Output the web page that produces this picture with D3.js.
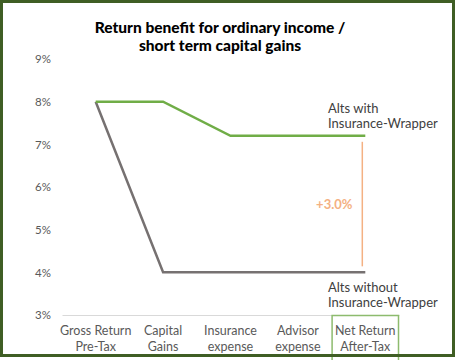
<!DOCTYPE html>
<html><head><meta charset="utf-8">
<script src="https://cdn.jsdelivr.net/npm/d3@7"></script>
<style>
html,body{margin:0;padding:0;background:#fff;}
svg{display:block;font-family:Lato,"Open Sans",sans-serif;}
</style></head>
<body><svg id="c" width="458" height="360"></svg>
<script>
const categories = [["Gross Return","Pre-Tax"],["Capital","Gains"],["Insurance","expense"],["Advisor","expense"],["Net Return","After-Tax"]];
const withWrapper = [8, 8, 7.2, 7.2, 7.2];
const withoutWrapper = [8, 4, 4, 4, 4];
const yTicks = [3,4,5,6,7,8,9];
const titleLines = ["Return benefit for ordinary income /","short term capital gains"];
const benefitLabel = "+3.0%";
const withLabel = ["Alts with","Insurance-Wrapper"];
const withoutLabel = ["Alts without","Insurance-Wrapper"];

const svg = d3.select("#c");
const x = d3.scaleBand().domain(d3.range(categories.length)).range([62, 399]);
const y = d3.scaleLinear().domain([3, 9]).range([315, 59]);
const cx = i => x(i) + x.bandwidth()/2;

// title
svg.append("text").attr("x", 220).attr("text-anchor","middle")
  .attr("font-weight","900").attr("font-size",15.5).attr("fill","#000")
  .selectAll("tspan").data(titleLines).join("tspan")
  .attr("x",220).attr("y",(d,i)=>33+i*18).text(d=>d);

// y axis
const yAxis = d3.axisLeft(y).tickValues(yTicks).tickFormat(d=>d+"%").tickSize(0).tickPadding(0);
const ya = svg.append("g").attr("transform","translate(51,0)").call(yAxis);
ya.select(".domain").remove();
ya.selectAll("text").attr("font-size",11.5).attr("fill","#595959").attr("font-family","Lato,sans-serif");

// baseline axis
const xa = svg.append("g").attr("transform",`translate(0,${y(3)})`)
  .call(d3.axisBottom(x).tickSize(0).tickFormat(""));
xa.select(".domain").attr("stroke","#d9d9d9").attr("stroke-width",1);

// category labels
categories.forEach((c,i)=>{
  svg.append("text").attr("text-anchor","middle").attr("font-size",12.5).attr("fill","#595959")
    .selectAll("tspan").data(c).join("tspan")
    .attr("x",cx(i)).attr("y",(d,j)=>335+j*16).text(d=>d);
});

// highlight box for last category
const li = categories.length-1;
svg.append("rect").attr("x",x(li)+0.5).attr("y",y(3)+0.5).attr("width",x.bandwidth()-1).attr("height",50)
  .attr("fill","none").attr("stroke","#8dbb6e").attr("stroke-width",1.5);

const line = d3.line().x((d,i)=>cx(i)).y(d=>y(d));
svg.append("path").datum(withoutWrapper).attr("d",line).attr("fill","none")
  .attr("stroke","#767171").attr("stroke-width",2.5);
svg.append("path").datum(withWrapper).attr("d",line).attr("fill","none")
  .attr("stroke","#70ad47").attr("stroke-width",2.5);

// benefit bracket
svg.append("line").attr("x1",cx(li)-3).attr("x2",cx(li)-3)
  .attr("y1",y(withWrapper[li])+6).attr("y2",y(withoutWrapper[li])-6)
  .attr("stroke","#f4b183").attr("stroke-width",1.5);
svg.append("text").attr("x",cx(li)-31).attr("y",(y(withWrapper[li])+y(withoutWrapper[li]))/2+5)
  .attr("text-anchor","middle").attr("font-weight","bold").attr("font-size",13).attr("fill","#f4b183")
  .text(benefitLabel);

// series labels
svg.append("text").attr("font-size",13).attr("fill","#404040")
  .selectAll("tspan").data(withLabel).join("tspan")
  .attr("x",328).attr("y",(d,i)=>y(withWrapper[li])-23+i*15).text(d=>d);
svg.append("text").attr("font-size",13).attr("fill","#404040")
  .selectAll("tspan").data(withoutLabel).join("tspan")
  .attr("x",328).attr("y",(d,i)=>y(withoutWrapper[li])+20+i*15).text(d=>d);

// frame
svg.append("rect").attr("x",1.5).attr("y",1.5).attr("width",452).attr("height",354)
  .attr("fill","none").attr("stroke","#3f5e24").attr("stroke-width",3);
</script></body></html>
